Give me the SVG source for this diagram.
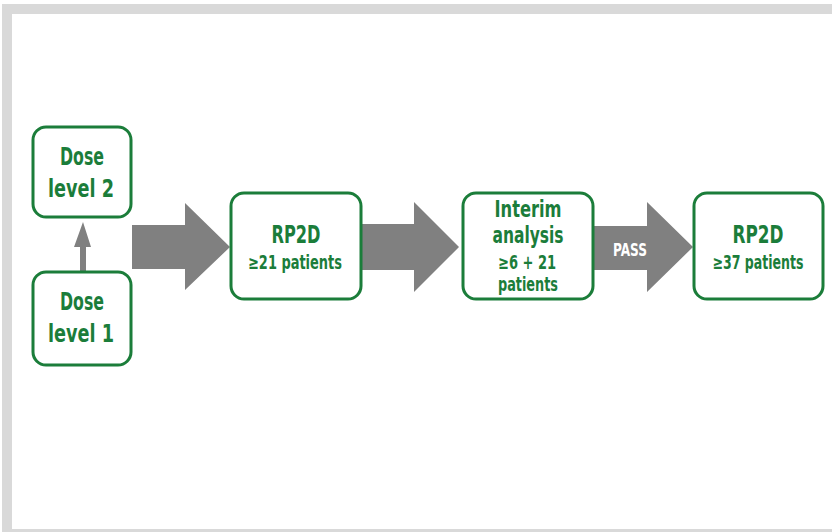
<svg xmlns="http://www.w3.org/2000/svg" width="832" height="532" viewBox="0 0 832 532">
<style>
.node rect{fill:#fff;stroke:#1b7d3a;stroke-width:3}
.t{font-family:"DejaVu Sans Condensed","Liberation Sans Narrow","Liberation Sans",sans-serif;font-weight:bold;fill:#1b7d3a;text-anchor:middle}
.big{font-size:25px}
.sm{font-size:19px}
.mid{font-size:23px}
.arr{fill:#808080}
.pass{font-family:"DejaVu Sans Condensed","Liberation Sans Narrow","Liberation Sans",sans-serif;font-weight:bold;fill:#fff;font-size:17px;text-anchor:middle}
</style>
<rect x="2" y="4" width="840" height="530" fill="#d9d9d9"/>
<rect x="12" y="14" width="830" height="515" fill="#fff"/>
<g id="connectors">
<polygon class="arr" points="80,272 86,272 86,247 91,247 83,222 74,247 80,247"/>
<polygon class="arr" points="132,225 185,225 185,203 230,247 185,290 185,269 132,269"/>
<polygon class="arr" points="362,224 414,224 414,202 459,247 414,292 414,270 362,270"/>
<polygon class="arr" points="593,226 647,226 647,202 693,247 647,292 647,270 593,270"/>
<text class="pass" x="630" y="256" textLength="34" lengthAdjust="spacingAndGlyphs">PASS</text>
</g>
<g id="dose2" class="node">
<rect x="33" y="127" width="98" height="90" rx="13"/>
<text class="t big" x="82" y="165" textLength="44" lengthAdjust="spacingAndGlyphs">Dose</text>
<text class="t big" x="81" y="197" textLength="66" lengthAdjust="spacingAndGlyphs">level 2</text>
</g>
<g id="dose1" class="node">
<rect x="33" y="272" width="98" height="93" rx="13"/>
<text class="t big" x="82" y="310" textLength="44" lengthAdjust="spacingAndGlyphs">Dose</text>
<text class="t big" x="81" y="342" textLength="66" lengthAdjust="spacingAndGlyphs">level 1</text>
</g>
<g id="rp2d1" class="node">
<rect x="231" y="193" width="130" height="106" rx="13"/>
<text class="t big" x="296" y="243" textLength="49" lengthAdjust="spacingAndGlyphs">RP2D</text>
<text class="t sm" x="295" y="269" textLength="94" lengthAdjust="spacingAndGlyphs">≥21 patients</text>
</g>
<g id="interim" class="node">
<rect x="463" y="193" width="130" height="106" rx="13"/>
<text class="t mid" x="528" y="217" textLength="67" lengthAdjust="spacingAndGlyphs">Interim</text>
<text class="t mid" x="528" y="243" textLength="71" lengthAdjust="spacingAndGlyphs">analysis</text>
<text class="t sm" x="527" y="269" textLength="58" lengthAdjust="spacingAndGlyphs">≥6 + 21</text>
<text class="t sm" x="528" y="291" textLength="60" lengthAdjust="spacingAndGlyphs">patients</text>
</g>
<g id="rp2d2" class="node">
<rect x="694" y="193" width="129" height="106" rx="13"/>
<text class="t big" x="758" y="243" textLength="51" lengthAdjust="spacingAndGlyphs">RP2D</text>
<text class="t sm" x="758" y="269" textLength="91" lengthAdjust="spacingAndGlyphs">≥37 patients</text>
</g>
</svg>
